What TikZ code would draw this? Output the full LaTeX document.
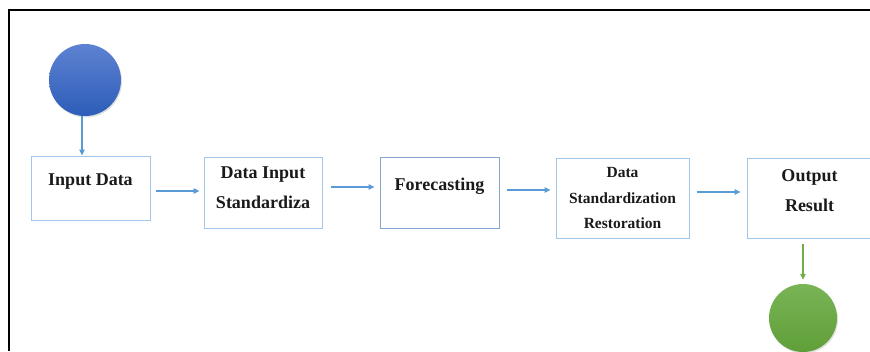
\documentclass[tikz,border=0pt]{standalone}
\usepackage{fontspec}
\setmainfont{Liberation Serif}
\usepackage{tikz}
\usetikzlibrary{arrows.meta,positioning,calc,shadows}
\definecolor{flowblue}{HTML}{5B9BD5}
\definecolor{boxline}{HTML}{A2C6E8}
\definecolor{fcline}{HTML}{86A6CE}
\definecolor{startlight}{HTML}{5E82D2}
\definecolor{startdark}{HTML}{2C5DB8}
\definecolor{endlight}{HTML}{79B456}
\definecolor{enddark}{HTML}{5F9F38}
\definecolor{flowgreen}{HTML}{70AD47}
\definecolor{inktext}{HTML}{1A1A1A}

\begin{document}
\begin{tikzpicture}[x=1pt,y=1pt,
  box/.style={draw=boxline,line width=1pt,fill=white,inner sep=0pt},
  lab/.style={font=\bfseries\fontsize{18}{30}\selectfont,text=inktext,align=center,inner sep=0pt},
  labsmall/.style={lab,font=\bfseries\fontsize{15.5}{25.5}\selectfont},
  terminal/.style={circle,inner sep=0pt,minimum size=#1,
    drop shadow={opacity=0.25,shadow xshift=1pt,shadow yshift=-1.5pt}},
  flow/.style={draw=flowblue,line width=1.2pt,-{Triangle[length=6pt,width=5.5pt]}},
  >={Triangle[length=6pt,width=5.5pt]}]
  \useasboundingbox (0,0) rectangle (870,-351);
  \clip (0,0) rectangle (870,-351);
  % frame
  \draw[black,line width=1.4pt] (9,-351) -- (9,-10) -- (872,-10);
  % start and end
  \node[terminal=72pt,top color=startlight,bottom color=startdark] (start) at (85,-80) {};
  \node[terminal=68pt,top color=endlight,bottom color=enddark] (finish) at (803,-318) {};
  % steps
  \node[box,minimum width=119pt,minimum height=64pt] (inp) at (90.5,-188) {};
  \node[lab] (inplab) at (90.5,-182) {Input Data};
  \node[box,minimum width=118pt,minimum height=71pt] (std) at (263,-192.5) {};
  \node[lab] (stdlab) at (263,-187.5) {Data Input\\Standardiza};
  \node[box,draw=fcline,minimum width=119pt,minimum height=71pt] (fc) at (439.5,-192.5) {};
  \node[lab] (fclab) at (439.5,-186) {Forecasting};
  \node[box,minimum width=133pt,minimum height=80pt] (rst) at (622.5,-198) {};
  \node[labsmall] (rstlab) at (622.5,-198) {Data\\Standardization\\Restoration};
  \node[box,minimum width=125pt,minimum height=80pt] (out) at (809.5,-198) {};
  \node[lab] (outlab) at (809.5,-190.5) {Output\\Result};
  % connectors
  \draw[flow] ([xshift=-3pt]start.south) -- ([xshift=-3pt]start.south |- inp.north);
  \draw[flow,shorten <=5pt,shorten >=4pt] ([yshift=-3pt]inp.east) -- ([yshift=-3pt]inp.east -| std.west);
  \draw[flow,shorten <=8pt,shorten >=5pt] ([yshift=5.5pt]std.east) -- ([yshift=5.5pt]std.east -| fc.west);
  \draw[flow,shorten <=7pt,shorten >=5pt] ([yshift=2.5pt]fc.east) -- ([yshift=2.5pt]fc.east -| rst.west);
  \draw[flow,shorten <=7pt,shorten >=6pt] ([yshift=6pt]rst.east) -- ([yshift=6pt]rst.east -| out.west);
  \draw[flow,draw=flowgreen,shorten <=5pt,shorten >=4pt] ([xshift=-6.5pt]out.south) -- ([xshift=-6.5pt]out.south |- finish.north);
\end{tikzpicture}
\end{document}
